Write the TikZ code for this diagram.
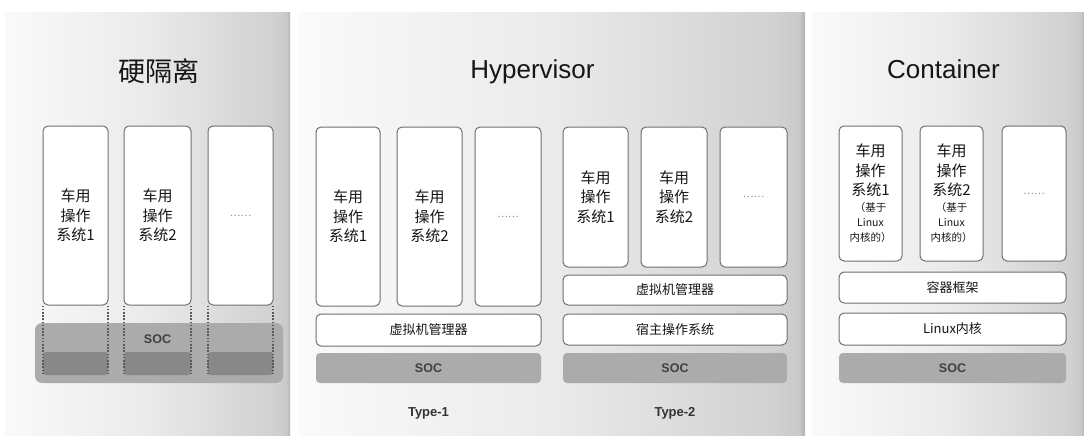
\documentclass[tikz,border=0pt]{standalone}
\usepackage{fontspec}
\setmainfont{Liberation Sans}
\newfontfamily\cjk{Noto Sans CJK SC}
\definecolor{ink}{HTML}{161616}
\definecolor{frame}{HTML}{707070}
\definecolor{socfill}{HTML}{ABABAB}
\definecolor{socdark}{HTML}{888888}
% panel background: light on the left, darker towards the right edge
\pgfdeclarehorizontalshading{panelshade}{100bp}{%
  color(0bp)=(black!2); color(25bp)=(black!2); color(50bp)=(black!8);
  color(72bp)=(black!18); color(74.4bp)=(black!21); color(75bp)=(black!30);
  color(100bp)=(black!30)}
\begin{document}
\begin{tikzpicture}[x=1pt,y=-1pt,
  every node/.style={text=ink},
  panel/.style={shading=panelshade},
  osbox/.style={draw=frame, fill=white, line width=1pt, rounded corners=5pt,
    inner sep=0pt, align=center, font=\cjk\fontsize{15}{19.5}\selectfont},
  layerbox/.style={draw=frame, fill=white, line width=1pt, rounded corners=5pt,
    inner sep=0pt, font=\cjk\fontsize{13}{15}\selectfont},
  socbar/.style={fill=socfill, rounded corners=4pt, inner sep=0pt,
    font=\bfseries\fontsize{12.5}{15}\selectfont, text=black!75},
  titletext/.style={font=\fontsize{26}{30}\selectfont, anchor=base},
  typelabel/.style={font=\bfseries\fontsize{13}{15}\selectfont, text=black!80},
  guide/.style={draw=black!65, line width=1.6pt, dash pattern=on 1.6pt off 1.6pt}]

\useasboundingbox (0,0) rectangle (1084,436);
\fill[white] (0,0) rectangle (1084,436);
\shade[panel] (5,13) rectangle (290,436);
\shade[panel] (298,13) rectangle (805,436);
\shade[panel] (812,13) rectangle (1084,436);

% ---------- hard isolation ----------
\node[font=\cjk\fontsize{27}{30}\selectfont] (t1) at (159,71) {硬隔离};
\node[fill=socfill, rounded corners=7pt, minimum width=248pt, minimum height=60pt, inner sep=0pt] (soc1) at (159,353) {};
\node[font=\bfseries\fontsize{12.5}{15}\selectfont, text=black!75] (soc1l) at (157.5,339) {SOC};
\node[fill=socdark, rounded corners=3pt, minimum width=65pt, minimum height=23pt, inner sep=0pt] (d1) at (75.5,363.5) {};
\node[fill=socdark, rounded corners=3pt, minimum width=67pt, minimum height=23pt, inner sep=0pt] (d2) at (157.5,363.5) {};
\node[fill=socdark, rounded corners=3pt, minimum width=65pt, minimum height=23pt, inner sep=0pt] (d3) at (240.5,363.5) {};
\node[osbox, minimum width=65pt, minimum height=179pt] (h1) at (75.5,215.5) {车用\\操作\\系统1};
\node[osbox, minimum width=67pt, minimum height=179pt] (h2) at (157.5,215.5) {车用\\操作\\系统2};
\node[osbox, minimum width=65pt, minimum height=179pt] (h3) at (240.5,215.5) {\textcolor{black!45}{\fontsize{10}{12}\selectfont ……}};
\foreach \b/\d in {h1/d1,h2/d2,h3/d3}{
  \draw[guide] ([xshift=0.5pt]\b.south west) -- ([xshift=0.5pt]\b.south west |- \d.south);
  \draw[guide] ([xshift=-0.5pt]\b.south east) -- ([xshift=-0.5pt]\b.south east |- \d.south);
}

% ---------- hypervisor ----------
\node[titletext] (t2) at (532.5,78) {Hypervisor};

% type 1
\node[osbox, minimum width=64pt, minimum height=179pt] (a1) at (348,216.5) {车用\\操作\\系统1};
\node[osbox, minimum width=65pt, minimum height=179pt] (a2) at (429.5,216.5) {车用\\操作\\系统2};
\node[osbox, minimum width=66pt, minimum height=179pt] (a3) at (508,216.5) {\textcolor{black!45}{\fontsize{10}{12}\selectfont ……}};
\node[layerbox, minimum width=225pt, minimum height=32pt] (vmm1) at (428.5,330) {虚拟机管理器};
\node[socbar, minimum width=225pt, minimum height=30pt] (soc2) at (428.5,368) {SOC};
\node[typelabel] (ty1) at (428.5,413) {Type-1};

% type 2
\node[osbox, minimum width=65pt, minimum height=140pt] (b1) at (595.5,197) {车用\\操作\\系统1};
\node[osbox, minimum width=66pt, minimum height=140pt] (b2) at (674,197) {车用\\操作\\系统2};
\node[osbox, minimum width=67pt, minimum height=140pt] (b3) at (753.5,197) {\textcolor{black!45}{\fontsize{10}{12}\selectfont ……}};
\node[layerbox, minimum width=224pt, minimum height=30pt] (vmm2) at (675,290) {虚拟机管理器};
\node[layerbox, minimum width=224pt, minimum height=31pt] (host) at (675,329.5) {宿主操作系统};
\node[socbar, minimum width=224pt, minimum height=30pt] (soc3) at (675,368) {SOC};
\node[typelabel] (ty2) at (675,413) {Type-2};

% ---------- container ----------
\node[titletext] (t3) at (943.5,78) {Container};
\node[osbox, minimum width=63pt, minimum height=135pt] (c1) at (870.5,193.5)
  {车用\\操作\\系统1\\[-3.5pt]{\fontsize{10.5}{12}\selectfont （基于}\\[-4.5pt]{\fontsize{10.5}{12}\selectfont Linux}\\[-4.5pt]{\fontsize{10.5}{12}\selectfont 内核的）}};
\node[osbox, minimum width=63pt, minimum height=135pt] (c2) at (951.5,193.5)
  {车用\\操作\\系统2\\[-3.5pt]{\fontsize{10.5}{12}\selectfont （基于}\\[-4.5pt]{\fontsize{10.5}{12}\selectfont Linux}\\[-4.5pt]{\fontsize{10.5}{12}\selectfont 内核的）}};
\node[osbox, minimum width=64pt, minimum height=135pt] (c3) at (1034,193.5) {\textcolor{black!45}{\fontsize{10}{12}\selectfont ……}};
\node[layerbox, minimum width=227pt, minimum height=31pt] (cf) at (952.5,287.5) {容器框架};
\node[layerbox, minimum width=227pt, minimum height=32pt] (lk) at (952.5,329) {Linux内核};
\node[socbar, minimum width=227pt, minimum height=30pt] (soc4) at (952.5,368) {SOC};
\end{tikzpicture}
\end{document}
